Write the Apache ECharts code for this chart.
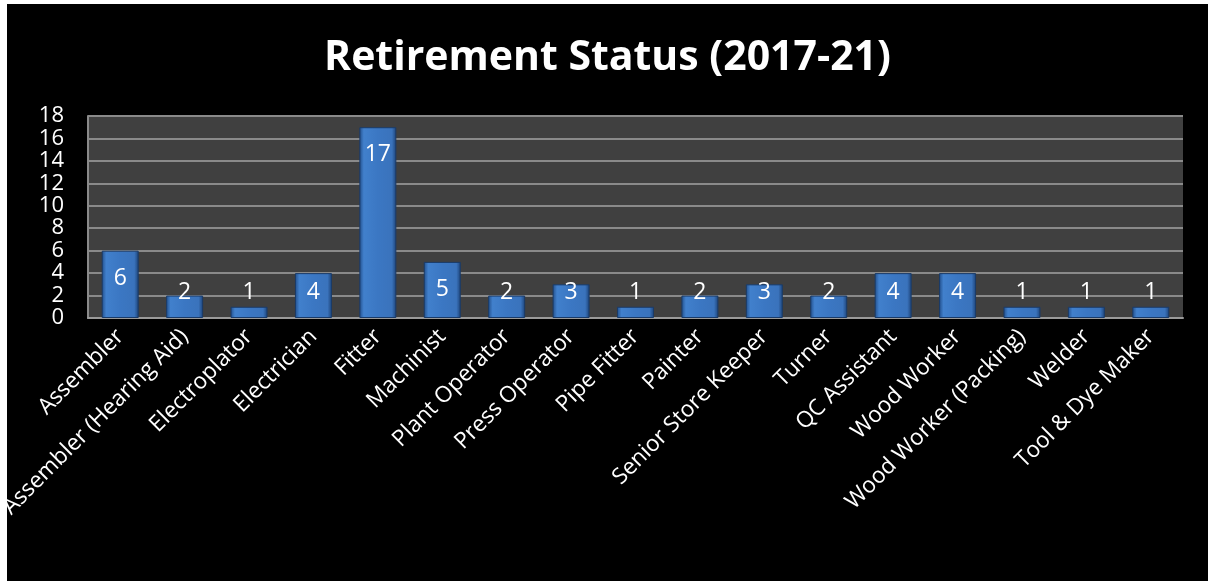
<!DOCTYPE html>
<html>
<head>
<meta charset="utf-8">
<script src="https://cdn.jsdelivr.net/npm/echarts@6/dist/echarts.min.js"></script>
<style>
  html, body { margin: 0; padding: 0; background: #fff; }
  #main { position: absolute; left: 7px; top: 4px; width: 1201px; height: 577px; background: #000; }
</style>
</head>
<body>
<div id="main"></div>
<script>
// chart data
var categories = ['Assembler', 'Assembler (Hearing Aid)', 'Electroplator', 'Electrician', 'Fitter',
  'Machinist', 'Plant Operator', 'Press Operator', 'Pipe Fitter', 'Painter', 'Senior Store Keeper',
  'Turner', 'QC Assistant', 'Wood Worker', 'Wood Worker (Packing)', 'Welder', 'Tool & Dye Maker']
var counts = [6, 2, 1, 4, 17, 5, 2, 3, 1, 2, 3, 2, 4, 4, 1, 1, 1]
var yTicks = [0, 2, 4, 6, 8, 10, 12, 14, 16, 18]

var font = '"Open Sans", "DejaVu Sans", sans-serif'

// tall bars get the label inside the top, short ones sit at a fixed height near the base
var barData = counts.map(function (v) {
  return {
    value: v,
    label: v >= 5
      ? { position: 'insideTop', distance: 16 }
      : { position: 'insideBottom', distance: 14 }
  }
})

var myChart = echarts.init(document.getElementById('main'))
myChart.setOption({
  backgroundColor: '#000',
  animation: false,
  title: {
    text: 'Retirement Status (2017-21)',
    left: 'center',
    top: 29,
    textStyle: {
      color: '#fff',
      fontFamily: font,
      fontWeight: 'bold',
      fontSize: 41
    }
  },
  grid: {
    left: 81,
    top: 112,
    width: 1095,
    height: 202,
    outerBoundsMode: 'none',
    containLabel: false,
    show: true,
    backgroundColor: '#404040',
    borderWidth: 0
  },
  xAxis: {
    type: 'category',
    data: categories,
    axisLine: { lineStyle: { color: '#9a9a9a', width: 2 } },
    axisTick: { show: false },
    axisLabel: {
      color: '#fff',
      fontFamily: font,
      fontSize: 22.5,
      rotate: 45,
      interval: 0,
      margin: 15
    }
  },
  yAxis: {
    type: 'value',
    min: yTicks[0],
    max: yTicks[yTicks.length - 1],
    interval: 2,
    axisLine: { show: true, lineStyle: { color: '#8a8a8a', width: 2 } },
    axisTick: { show: false },
    axisLabel: {
      color: '#fff',
      fontFamily: font,
      fontSize: 22,
      margin: 24
    },
    splitLine: { lineStyle: { color: '#8a8a8a', width: 2 } }
  },
  series: [
    {
      type: 'bar',
      data: barData,
      barWidth: 37,
      itemStyle: {
        color: new echarts.graphic.LinearGradient(0, 0, 1, 0, [
          { offset: 0, color: '#214e8a' },
          { offset: 0.12, color: '#4180cc' },
          { offset: 0.5, color: '#3b77c3' },
          { offset: 0.88, color: '#3a73bc' },
          { offset: 1, color: '#1c4277' }
        ]),
        borderColor: '#1a3b68',
        borderWidth: 1
      },
      label: {
        show: true,
        color: '#fff',
        fontFamily: font,
        fontSize: 23
      }
    }
  ]
})
</script>
</body>
</html>
